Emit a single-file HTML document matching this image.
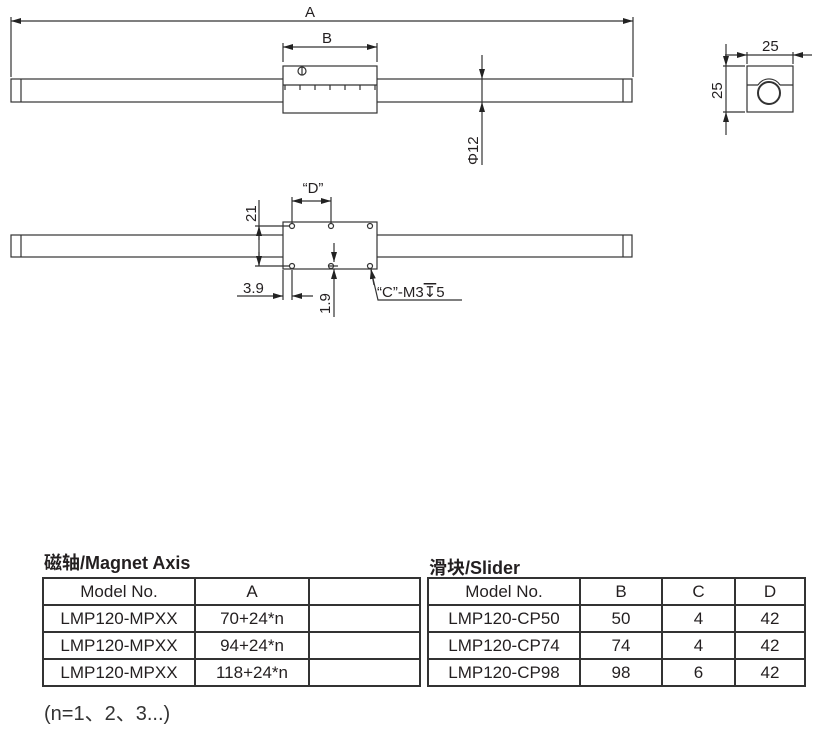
<!DOCTYPE html>
<html><head><meta charset="utf-8"><style>
body{margin:0;background:#fff;width:828px;height:731px;overflow:hidden;position:relative;font-family:"Liberation Sans","Noto Sans CJK SC",sans-serif;color:#231f20}
svg{position:absolute;left:0;top:0}
.t{position:absolute;border-collapse:collapse;font-size:17px}
.t td{border:2px solid #333;text-align:center;padding:0;height:25px;line-height:25px}
.h{position:absolute;font-weight:bold;font-size:18px;font-family:"Liberation Sans","Noto Sans CJK SC",sans-serif}
</style></head><body>
<svg width="828" height="731" viewBox="0 0 828 731">
<defs>
<marker id="a" viewBox="0 0 10 6" refX="10" refY="3" markerWidth="10" markerHeight="6" orient="auto-start-reverse" markerUnits="userSpaceOnUse"><path d="M0,0L10,3L0,6z" fill="#222"/></marker>
</defs>
<g stroke="#333" stroke-width="1.2" fill="none">
<rect x="11" y="79" width="621" height="23" fill="#fff"/>
<line x1="21" y1="79" x2="21" y2="102"/><line x1="623" y1="79" x2="623" y2="102"/>
<rect x="283" y="66" width="94" height="47" fill="#fff"/>
<line x1="283" y1="85" x2="377" y2="85"/>
<path d="M285 85v5M300 85v5M315 85v5M330 85v5M345 85v5M360 85v5M375 85v5"/>
<circle cx="302" cy="71" r="4"/><line x1="302" y1="67" x2="302" y2="75"/>
<line x1="11" y1="17" x2="11" y2="77"/><line x1="633" y1="17" x2="633" y2="77"/>
<line x1="11" y1="21" x2="633" y2="21" marker-start="url(#a)" marker-end="url(#a)"/>
<line x1="283" y1="43" x2="283" y2="62"/><line x1="377" y1="43" x2="377" y2="62"/>
<line x1="283" y1="47" x2="377" y2="47" marker-start="url(#a)" marker-end="url(#a)"/>
<line x1="482" y1="55" x2="482" y2="79" marker-end="url(#a)"/>
<line x1="482" y1="165" x2="482" y2="102" marker-end="url(#a)"/>
<line x1="482" y1="79" x2="482" y2="102"/>
<rect x="747" y="66" width="46" height="46"/>
<path d="M747 85H758M780 85H793"/>
<circle cx="769" cy="93" r="11" stroke-width="2"/>
<path d="M758 85A13 13 0 0 1 780 85"/>
<line x1="747" y1="52" x2="747" y2="64"/><line x1="793" y1="52" x2="793" y2="64"/>
<line x1="725" y1="55" x2="747" y2="55" marker-end="url(#a)"/>
<line x1="812" y1="55" x2="793" y2="55" marker-end="url(#a)"/>
<line x1="747" y1="55" x2="793" y2="55"/>
<line x1="723" y1="66" x2="745" y2="66"/><line x1="723" y1="112" x2="745" y2="112"/>
<line x1="726" y1="44" x2="726" y2="66" marker-end="url(#a)"/>
<line x1="726" y1="135" x2="726" y2="112" marker-end="url(#a)"/>
<line x1="726" y1="66" x2="726" y2="112"/>
<rect x="11" y="235" width="621" height="22" fill="#fff"/>
<line x1="21" y1="235" x2="21" y2="257"/><line x1="623" y1="235" x2="623" y2="257"/>
<rect x="283" y="222" width="94" height="47" fill="#fff"/>
<circle cx="292" cy="226" r="2.5"/><circle cx="331" cy="226" r="2.5"/><circle cx="370" cy="226" r="2.5"/>
<circle cx="292" cy="266" r="2.5"/><circle cx="331" cy="266" r="2.5"/><circle cx="370" cy="266" r="2.5"/>
<line x1="292" y1="197" x2="292" y2="223"/><line x1="331" y1="197" x2="331" y2="223"/>
<line x1="292" y1="201" x2="331" y2="201" marker-start="url(#a)" marker-end="url(#a)"/>
<line x1="255" y1="226" x2="289" y2="226"/><line x1="255" y1="266" x2="289" y2="266"/>
<line x1="259" y1="200" x2="259" y2="266"/>
<line x1="259" y1="240" x2="259" y2="226" marker-end="url(#a)"/>
<line x1="259" y1="252" x2="259" y2="266" marker-end="url(#a)"/>
<line x1="283" y1="270" x2="283" y2="300"/><line x1="292" y1="270" x2="292" y2="300"/>
<line x1="237" y1="296" x2="283" y2="296" marker-end="url(#a)"/>
<line x1="313" y1="296" x2="292" y2="296" marker-end="url(#a)"/>
<line x1="328" y1="266" x2="338" y2="266"/>
<line x1="334" y1="243" x2="334" y2="262" marker-end="url(#a)"/>
<line x1="334" y1="317" x2="334" y2="269" marker-end="url(#a)"/>
<polyline points="462,300 378,300 371,270" />
<line x1="374" y1="285" x2="371" y2="269" marker-end="url(#a)"/>
</g>
<g fill="#231f20" font-family="Liberation Sans, sans-serif" font-size="15">
<text x="305" y="17">A</text>
<text x="322" y="43">B</text>
<text x="313" y="193" text-anchor="middle">“D”</text>
<text x="243" y="293">3.9</text>
<text x="377" y="297">“C”-M3<tspan text-decoration="overline">↧</tspan>5</text>
<text x="762" y="51">25</text>
<text transform="translate(722,99) rotate(-90)">25</text>
<text transform="translate(478,165) rotate(-90)">Φ12</text>
<text transform="translate(256,222) rotate(-90)">21</text>
<text transform="translate(330,314) rotate(-90)">1.9</text>
</g>
</svg>
<div class="h" style="left:44px;top:549px">磁轴/Magnet Axis</div>
<table class="t" style="left:42px;top:577px;width:379px">
<tr><td style="width:150px">Model No.</td><td style="width:112px">A</td><td></td></tr>
<tr><td>LMP120-MPXX</td><td>70+24*n</td><td></td></tr>
<tr><td>LMP120-MPXX</td><td>94+24*n</td><td></td></tr>
<tr><td>LMP120-MPXX</td><td>118+24*n</td><td></td></tr>
</table>
<div class="h" style="left:429px;top:554px">滑块/Slider</div>
<table class="t" style="left:427px;top:577px;width:379px">
<tr><td style="width:150px">Model No.</td><td style="width:80px">B</td><td style="width:71px">C</td><td>D</td></tr>
<tr><td>LMP120-CP50</td><td>50</td><td>4</td><td>42</td></tr>
<tr><td>LMP120-CP74</td><td>74</td><td>4</td><td>42</td></tr>
<tr><td>LMP120-CP98</td><td>98</td><td>6</td><td>42</td></tr>
</table>
<div style="position:absolute;left:44px;top:697px;font-size:20px;color:#333">(n=1、2、3...)</div>
</body></html>
